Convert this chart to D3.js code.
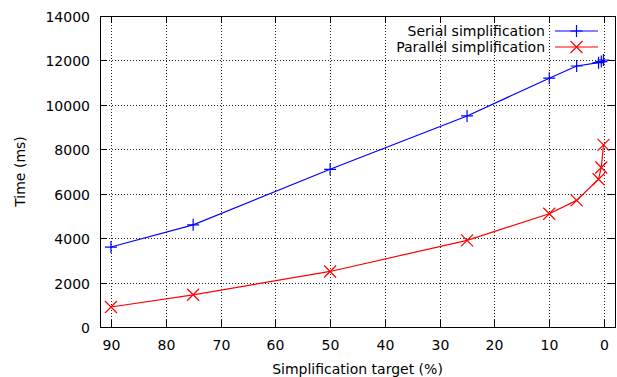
<!DOCTYPE html>
<html>
<head>
<meta charset="utf-8">
<script src="https://cdn.jsdelivr.net/npm/d3@7"></script>
<style>
  body { margin: 0; background: #fff; }
  svg text { font-family: "DejaVu Sans", sans-serif; font-size: 14px; fill: #000; }
</style>
</head>
<body>
<svg id="chart" width="617" height="377"></svg>
<script>
// --- Data ---
const targets = [90, 75, 50, 25, 10, 5, 1, 0.5, 0.1];
const serialTimes = [3600, 4600, 7100, 9500, 11200, 11750, 11900, 11950, 12020];
const parallelTimes = [900, 1450, 2500, 3900, 5100, 5700, 6650, 7180, 8200];
const xTicks = [90, 80, 70, 60, 50, 40, 30, 20, 10, 0];
const yTicks = [0, 2000, 4000, 6000, 8000, 10000, 12000, 14000];
const seriesNames = ["Serial simplification", "Parallel simplification"];

// --- Layout ---
const plot = { left: 100, right: 615, top: 16, bottom: 327 };
const tickLen = 7;
const svg = d3.select('#chart');

const x = d3.scaleLinear().domain([92, -2]).range([plot.left, plot.right]);
const y = d3.scaleLinear().domain([0, 14000]).range([plot.bottom, plot.top]);

// grid
const grid = svg.append('g').attr('stroke', '#222').attr('stroke-width', 1)
    .attr('stroke-dasharray', '1,2');
xTicks.forEach(t => {
    const px = Math.round(x(t)) + 0.5;
    grid.append('line').attr('x1', px).attr('x2', px)
        .attr('y1', plot.top).attr('y2', plot.bottom);
});
yTicks.slice(1, -1).forEach(t => {
    const py = Math.round(y(t)) + 0.5;
    grid.append('line').attr('y1', py).attr('y2', py)
        .attr('x1', plot.left).attr('x2', plot.right);
});

// ticks (inward, mirrored)
const ticks = svg.append('g').attr('stroke', '#000').attr('stroke-width', 1);
xTicks.forEach(t => {
    const px = Math.round(x(t)) + 0.5;
    ticks.append('line').attr('x1', px).attr('x2', px).attr('y1', plot.bottom).attr('y2', plot.bottom - tickLen);
    ticks.append('line').attr('x1', px).attr('x2', px).attr('y1', plot.top).attr('y2', plot.top + tickLen);
    svg.append('text').attr('x', px).attr('y', plot.bottom + 23)
        .attr('text-anchor', 'middle').text(t);
});
yTicks.forEach(t => {
    const py = Math.round(y(t)) + 0.5;
    ticks.append('line').attr('y1', py).attr('y2', py).attr('x1', plot.left).attr('x2', plot.left + tickLen);
    ticks.append('line').attr('y1', py).attr('y2', py).attr('x1', plot.right).attr('x2', plot.right - tickLen);
    svg.append('text').attr('x', plot.left - 10).attr('y', py + 5)
        .attr('text-anchor', 'end').text(t);
});

// frame
svg.append('rect')
    .attr('x', plot.left + 0.5).attr('y', plot.top + 0.5)
    .attr('width', plot.right - plot.left).attr('height', plot.bottom - plot.top)
    .attr('fill', 'none').attr('stroke', '#000').attr('stroke-width', 1);

// axis labels
svg.append('text').attr('x', (plot.left + plot.right) / 2).attr('y', 374)
    .attr('text-anchor', 'middle').text('Simplification target (%)');
svg.append('text')
    .attr('transform', `translate(25, ${(plot.top + plot.bottom) / 2}) rotate(-90)`)
    .attr('text-anchor', 'middle').text('Time (ms)');

// markers
function plus(g, cx, cy, color) {
    g.append('path').attr('d', `M${cx - 6},${cy}H${cx + 6}M${cx},${cy - 6}V${cy + 6}`)
        .attr('stroke', color).attr('stroke-width', 1.2).attr('fill', 'none');
}
function cross(g, cx, cy, color) {
    g.append('path').attr('d', `M${cx - 6},${cy - 6}L${cx + 6},${cy + 6}M${cx - 6},${cy + 6}L${cx + 6},${cy - 6}`)
        .attr('stroke', color).attr('stroke-width', 1.2).attr('fill', 'none');
}

const series = [
    { values: serialTimes, color: '#0000ff', marker: plus },
    { values: parallelTimes, color: '#ff0000', marker: cross },
];
const line = d3.line().x(d => x(d[0])).y(d => y(d[1]));

series.forEach((s, i) => {
    const pts = targets.map((t, k) => [t, s.values[k]]);
    const g = svg.append('g');
    g.append('path').datum(pts).attr('d', line)
        .attr('fill', 'none').attr('stroke', s.color).attr('stroke-width', 1.2);
    pts.forEach(p => s.marker(g, x(p[0]), y(p[1]), s.color));

    // legend
    const ly = 31 + i * 16;
    svg.append('text').attr('x', 545).attr('y', ly + 5)
        .attr('text-anchor', 'end').text(seriesNames[i]);
    g.append('line').attr('x1', 555).attr('x2', 598).attr('y1', ly).attr('y2', ly)
        .attr('stroke', s.color).attr('stroke-width', 1.2);
    s.marker(g, 576.5, ly, s.color);
});
</script>
</body>
</html>
